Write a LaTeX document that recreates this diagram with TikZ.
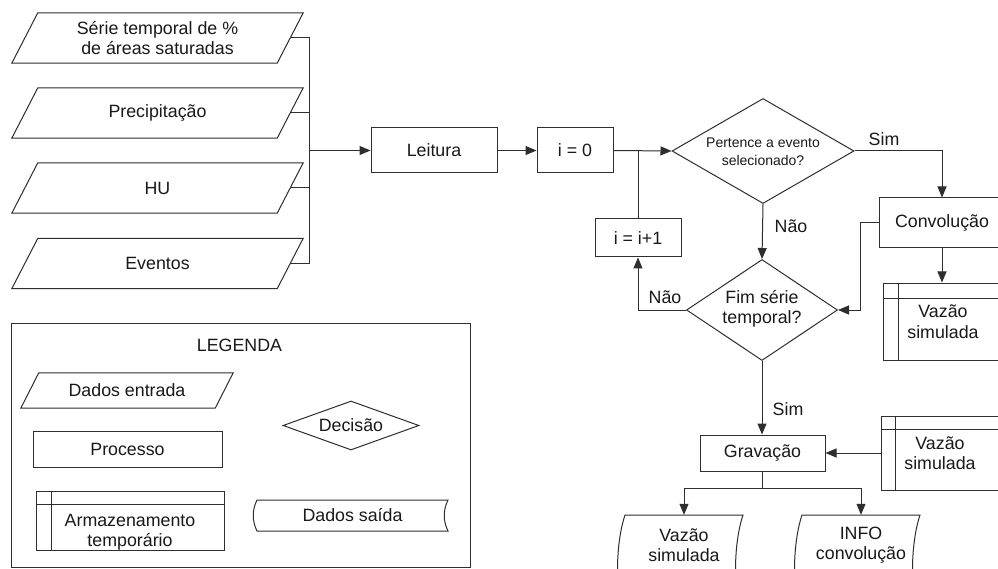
\documentclass[tikz,border=0pt]{standalone}
\usepackage{fontspec}
\setmainfont{Liberation Sans}
\usetikzlibrary{shapes.geometric,arrows.meta,calc}

\tikzset{
  ln/.style={line width=1pt, draw=black!82},
  arr/.style={ln, -{Triangle[length=11pt,width=9pt]}},
  txt/.style={font=\fontsize{17.8}{20.5}\selectfont, align=center, text=black!90, inner sep=0pt},
  smalltxt/.style={txt, font=\fontsize{14}{18.3}\selectfont},
  body/.style={txt, rectangle},
  proc/.style={txt, rectangle, draw=black!82, line width=1pt},
  dec/.style={diamond, draw=black!82, line width=1pt, inner sep=0pt},
}

% slanted frame around an (invisible) node: name, half slant
\newcommand\slantframe[2]{%
  \draw[ln] ($(#1.north west)+(#2,0)$) -- ($(#1.north east)+(#2,0)$)
    -- ($(#1.south east)+(-#2,0)$) -- ($(#1.south west)+(-#2,0)$) -- cycle;}
% inner rules of a storage box: name, left offset, top offset
\newcommand\storeframe[3]{%
  \draw[ln] ($(#1.north west)+(#2,0)$) -- ($(#1.south west)+(#2,0)$);
  \draw[ln] ($(#1.north west)+(0,#3)$) -- ($(#1.north east)+(0,#3)$);}

\begin{document}
\begin{tikzpicture}[x=1pt,y=-1pt]
\useasboundingbox (0,0) rectangle (998,569);
\fill[white] (0,0) rectangle (998,569);
\clip (0,0) rectangle (998,569);

% input data
\node[body, minimum width=265pt, minimum height=50pt] (p1) at (157.5,38) {Série temporal de \%\\de áreas saturadas};
\node[body, minimum width=265pt, minimum height=50pt] (p2) at (157.5,113) {Precipitação};
\node[body, minimum width=265pt, minimum height=50pt] (p3) at (157.5,188) {HU};
\node[body, minimum width=265pt, minimum height=50pt] (p4) at (157.5,263.5) {Eventos};
\slantframe{p1}{13}
\slantframe{p2}{13}
\slantframe{p3}{13}
\slantframe{p4}{13}

% processes
\node[proc, minimum width=126pt, minimum height=45pt] (leitura) at (434,150.5) {Leitura};
\node[proc, minimum width=76pt, minimum height=45pt] (i0) at (575,150.5) {i = 0};
\node[proc, minimum width=86pt, minimum height=38pt] (inc) at (638,238) {i = i+1};
\node[proc, minimum width=126pt, minimum height=50pt] (conv) at (942,223) {Convolução};
\node[proc, minimum width=125pt, minimum height=36pt] (grav) at (762.5,453) {Gravação};

% decisions
\node[dec, minimum width=182pt, minimum height=105pt] (d1) at (763,151) {};
\node[smalltxt] at (763,152) {Pertence a evento\\selecionado?};
\node[dec, minimum width=151pt, minimum height=101pt] (d2) at (762,310) {};
\node[txt] at (762,309) {Fim série\\temporal?};

% temporary storage
\node[proc, minimum width=120pt, minimum height=77pt] (s1) at (943,321.5) {Vazão\\simulada};
\storeframe{s1}{16}{16}
\node[proc, minimum width=118pt, minimum height=74pt] (s2) at (940,453) {Vazão\\simulada};
\storeframe{s2}{15}{14}

% output data
\node[body, minimum width=118pt, minimum height=60pt] (o1) at (684,545) {Vazão\\simulada};
\draw[ln] (625,625) .. controls (615,595) and (615,545) .. (625,515) -- (743,515)
  .. controls (733,545) and (733,595) .. (743,625);
\node[body, minimum width=118pt, minimum height=60pt] (o2) at (861,545) {INFO\\convolução};
\draw[ln] (802,625) .. controls (792,595) and (792,545) .. (802,515) -- (920,515)
  .. controls (910,545) and (910,595) .. (920,625);

% connectors
\coordinate (bt) at (309,38);
\coordinate (bb) at (309,263.5);
\draw[ln] (p1.east) -- (bt) -- (bb) -- (p4.east);
\draw[ln] (p2.east) -- (p2.east -| bt);
\draw[ln] (p3.east) -- (p3.east -| bt);
\draw[arr] (bt |- leitura.west) -- (leitura.west);
\draw[arr] (leitura) -- (i0);
\draw[arr] (i0.east) -- (d1.west);
\draw[ln] (inc.north) -- (inc.north |- i0.east);
\draw[arr] (d1.south) -- (d2.north);
\node[txt] at (791,226) {Não};
\draw[arr] (d2.west) -| (inc.south);
\node[txt] at (665,297) {Não};
\draw[arr] (d1.east) -| (conv.north);
\node[txt] at (884,139) {Sim};
\draw[arr] (conv.west) -- ($(conv.west)+(-18,0)$) |- (d2.east);
\draw[arr] (conv.south) -- (conv.south |- s1.north);
\draw[arr] (d2.south) -- (d2.south |- grav.north);
\node[txt] at (788,409) {Sim};
\draw[arr] (s2.west) -- (grav.east);
\coordinate (split) at (762.5,488);
\draw[ln] (grav.south) -- (split);
\draw[arr] (split) -| (o1.north);
\draw[arr] (split) -| (o2.north);

% legend
\draw[ln] (11,323) rectangle (470,567);
\node[txt] (legtitle) at (239.5,345) {LEGENDA};
\node[body, minimum width=194pt, minimum height=35pt] (lin) at (127,390.5) {Dados entrada};
\slantframe{lin}{9}
\node[proc, minimum width=189pt, minimum height=36pt] (lproc) at (127.5,449) {Processo};
\node[proc, minimum width=188pt, minimum height=59pt] (lstore) at (130,520.5) {};
\storeframe{lstore}{16}{14}
\node[txt] at (130,532) {Armazenamento\\temporário};
\node[dec, minimum width=136pt, minimum height=49pt] (ldec) at (351,425.5) {};
\node[txt] at (ldec) {Decisão};
\node[body, minimum width=191pt, minimum height=31pt] (lout) at (352.5,515.5) {Dados saída};
\draw[ln] (257,531) .. controls (252,521) and (252,510) .. (257,500) -- (448,500)
  .. controls (443,510) and (443,521) .. (448,531) -- cycle;
\end{tikzpicture}
\end{document}
